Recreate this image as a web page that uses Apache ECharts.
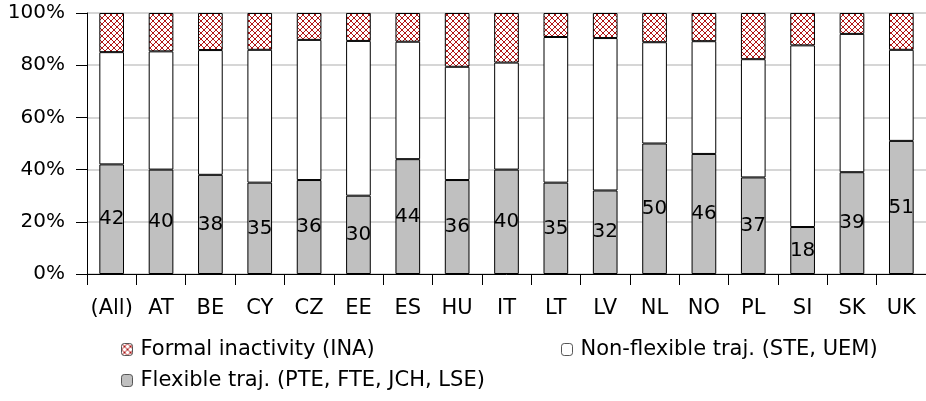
<!DOCTYPE html>
<html>
<head>
<meta charset="utf-8">
<script src="https://cdn.jsdelivr.net/npm/echarts@6/dist/echarts.min.js"></script>
<style>html,body{margin:0;padding:0;background:#fff;}#c{width:926px;height:401px;}</style>
</head>
<body>
<div id="c"></div>
<script>
const categories = ['(All)','AT','BE','CY','CZ','EE','ES','HU','IT','LT','LV','NL','NO','PL','SI','SK','UK'];
const flexible = [42,40,38,35,36,30,44,36,40,35,32,50,46,37,18,39,51];
const nonFlexible = [43,45.3,47.8,50.9,53.7,59.3,45,43.4,41,55.8,58.4,38.8,43.2,45.3,69.6,53,34.9];
const inactivity = [15,14.7,14.2,14.1,10.3,10.7,11,20.6,19,9.2,9.6,11.2,10.8,17.7,12.4,8,14.1];
const yTicks = [0,20,40,60,80,100];
const seriesNames = ['Formal inactivity (INA)','Non-flexible traj. (STE, UEM)','Flexible traj. (PTE, FTE, JCH, LSE)'];

// crosshatch pattern
const pc = document.createElement('canvas');
pc.width = 6; pc.height = 6;
const g = pc.getContext('2d');
g.fillStyle = '#ffffff'; g.fillRect(0,0,6,6);
g.strokeStyle = '#b01818'; g.lineWidth = 1;
g.beginPath();
g.moveTo(0,0); g.lineTo(6,6);
g.moveTo(6,0); g.lineTo(0,6);
g.stroke();
const hatch = {image: pc, repeat: 'repeat'};

const FONT = '"DejaVu Sans", sans-serif';
const chart = echarts.init(document.getElementById('c'), null, {renderer:'canvas'});
const legendBase = {
  orient:'horizontal', padding:0, itemWidth:11, itemHeight:12,
  textStyle:{fontFamily:FONT, fontSize:21, color:'#000', padding:[0,0,0,3]},
  itemStyle:{borderColor:'#555', borderWidth:1},
  selectedMode:false
};
chart.setOption({
  animation:false,
  backgroundColor:'#fff',
  grid:{left:87, top:13, right:-9, bottom:127, containLabel:false},
  legend:[
    Object.assign({}, legendBase, {data:[seriesNames[0]], left:121, top:339}),
    Object.assign({}, legendBase, {data:[seriesNames[1]], left:561, top:339}),
    Object.assign({}, legendBase, {data:[seriesNames[2]], left:121, top:370})
  ],
  xAxis:{
    type:'category', data:categories,
    axisLine:{lineStyle:{color:'#000', width:1}},
    axisTick:{show:true, length:11, lineStyle:{color:'#000'}},
    axisLabel:{fontFamily:FONT, fontSize:21, color:'#000', margin:24, interval:0}
  },
  yAxis:{
    type:'value', min:0, max:100, interval:20,
    axisLine:{show:true, lineStyle:{color:'#000', width:1}},
    axisTick:{show:true, length:11, lineStyle:{color:'#000'}},
    axisLabel:{fontFamily:FONT, fontSize:20, color:'#000', margin:22,
      formatter:function(v){ return yTicks.indexOf(v) >= 0 ? v + '%' : ''; }},
    splitLine:{show:true, lineStyle:{color:'#c8c8c8', width:1.5}}
  },
  series:[
    {name:seriesNames[2], type:'bar', stack:'a', data:flexible, barWidth:'50%',
     itemStyle:{color:'#c0c0c0', borderColor:'#000', borderWidth:1},
     label:{show:true, position:'inside', fontFamily:FONT, fontSize:20, color:'#000',
       formatter:function(p){ return Math.round(p.value); }}},
    {name:seriesNames[1], type:'bar', stack:'a', data:nonFlexible, barWidth:'50%',
     itemStyle:{color:'#ffffff', borderColor:'#000', borderWidth:1}},
    {name:seriesNames[0], type:'bar', stack:'a', data:inactivity, barWidth:'50%',
     itemStyle:{color:hatch, borderColor:'#000', borderWidth:1}}
  ]
});
</script>
</body>
</html>
